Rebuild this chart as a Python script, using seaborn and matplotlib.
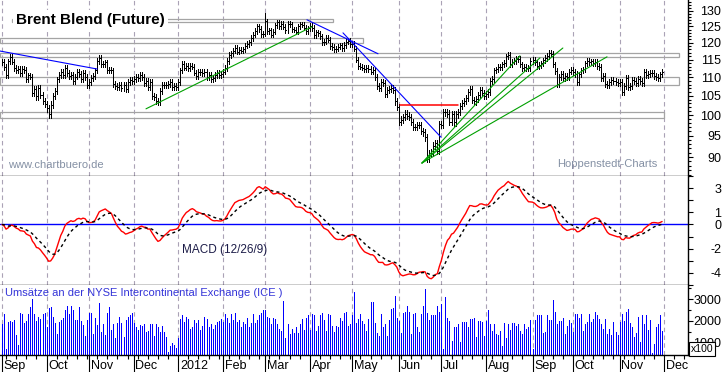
import numpy as np
import pandas as pd
import matplotlib
matplotlib.use("Agg")
import matplotlib.pyplot as plt
import matplotlib.transforms as mtransforms
from matplotlib.patches import Rectangle
from matplotlib.ticker import FixedLocator, NullFormatter
import seaborn as sns

sns.set_theme(style="white")
plt.rcParams['font.family'] = ['Liberation Sans', 'DejaVu Sans']
plt.rcParams['axes.unicode_minus'] = False

# Brent daily closes, month by month (USD)
sep11 = [114.3, 112.8, 110.6, 114.5, 115.8, 114.4, 112.6, 112.0, 112.4, 111.2, 112.3,
         112.0, 109.5, 110.5, 110.2, 105.6, 106.8, 104.8, 107.0, 105.2, 103.6, 102.9]
oct11 = [101.7, 100.2, 102.7, 104.9, 106.2, 109.4, 110.6, 111.4, 110.6, 112.6, 111.2,
         110.4, 110.7, 108.9, 110.2, 111.6, 110.9, 109.6, 111.3, 110.0, 107.8]
nov11 = [108.6, 109.9, 110.4, 111.9, 114.6, 115.6, 113.7, 113.8, 114.2, 111.9, 112.0,
         111.9, 108.2, 107.6, 107.2, 107.9, 107.0, 108.0, 106.8, 108.8, 109.2, 108.9]
dec11 = [109.6, 110.2, 109.8, 110.6, 110.1, 108.4, 109.0, 107.3, 108.8, 105.0, 104.6,
         103.6, 103.4, 106.2, 107.8, 107.9, 107.9, 108.2, 108.8, 107.2, 107.5, 107.4]
jan12 = [108.6, 111.9, 113.7, 112.7, 113.1, 112.5, 113.3, 113.0, 111.3, 110.4, 111.5,
         111.4, 111.2, 111.6, 110.1, 110.6, 109.6, 109.9, 110.6, 111.2, 110.7, 110.9]
feb12 = [111.6, 112.6, 114.6, 116.3, 116.8, 117.6, 118.4, 117.3, 117.8, 117.6, 118.0,
         119.1, 119.6, 120.1, 121.4, 122.4, 123.6, 125.0, 124.2, 122.5, 122.7]
mar12 = [126.6, 123.6, 123.8, 122.4, 123.4, 125.4, 126.4, 125.0, 125.9, 124.9, 123.9,
         125.8, 125.7, 124.1, 124.0, 123.3, 125.1, 125.7, 125.5, 124.6, 123.6, 124.4]
apr12 = [125.2, 124.5, 122.3, 123.2, 122.9, 122.0, 120.1, 120.3, 121.4, 120.9, 119.0,
         118.7, 118.0, 118.2, 118.8, 119.2, 118.4, 119.3, 120.3, 120.5, 119.6]
may12 = [119.7, 118.2, 115.0, 113.2, 113.0, 112.7, 112.2, 112.7, 112.3, 111.6, 112.0,
         110.1, 107.5, 107.1, 108.6, 108.4, 105.4, 106.6, 106.8, 107.0, 106.5, 103.5, 102.0]
jun12 = [98.4, 98.9, 99.6, 100.4, 99.9, 99.5, 98.3, 97.1, 97.1, 97.6, 97.6,
         96.1, 95.8, 94.6, 89.6, 90.9, 91.0, 92.6, 93.2, 91.4, 97.8]
jul12 = [97.6, 100.7, 100.7, 100.4, 98.4, 100.3, 98.2, 100.2, 100.8, 102.4, 103.0,
         103.6, 104.3, 106.1, 106.8, 103.8, 103.5, 104.2, 105.3, 106.5, 105.6, 104.9]
aug12 = [105.4, 106.1, 108.9, 109.6, 111.9, 112.2, 113.0, 112.9, 113.6, 114.0, 115.9,
         116.4, 113.7, 114.4, 114.6, 115.2, 115.1, 113.6, 112.6, 112.9, 112.6, 112.5, 114.6]
sep12 = [114.9, 114.2, 113.2, 113.5, 113.9, 114.8, 115.4, 116.0, 116.9, 116.7,
         113.6, 111.7, 108.2, 110.0, 111.0, 109.8, 110.4, 110.0, 111.6, 112.0]
oct12 = [111.4, 111.0, 108.6, 110.8, 111.9, 112.2, 113.9, 114.6, 114.3, 114.5, 113.9,
         114.3, 113.1, 112.8, 109.8, 110.3, 108.2, 107.8, 108.6, 109.2, 109.0, 108.6, 108.4]
nov12 = [108.8, 106.0, 107.5, 109.9, 107.4, 107.6, 109.2, 108.9, 108.5, 109.6, 109.0,
         108.4, 111.4, 110.6, 110.9, 111.1, 111.3, 110.4, 110.1, 109.8, 110.8, 111.4]

# intraday extremes that stick out of the usual bar
spike_highs = {'2012-03-01': 129.3}

# ICE volume (x100 contracts)
vol_sep11 = [1850, 2300, 700, 1950, 2000, 1950, 2050, 1350, 900, 2350, 2300,
             1900, 2000, 2300, 2650, 3000, 2300, 2000, 2200, 2100, 2300, 2350]
vol_oct11 = [1700, 2600, 2650, 2200, 1900, 1400, 1950, 2050, 2150, 2500, 2700,
             2300, 2700, 2500, 2050, 2050, 2650, 2000, 1800, 1300, 2050]
vol_nov11 = [2350, 2350, 1400, 2150, 1800, 2800, 1500, 1850, 1350, 2350, 2650,
             1600, 1850, 1200, 1900, 2200, 1900, 1250, 2050, 2200, 2250, 2350]
vol_dec11 = [1900, 1700, 1600, 1800, 1750, 1850, 1500, 1550, 1850, 1850, 1300,
             1850, 1700, 1500, 1750, 1500, 1250, 600, 850, 1000, 900, 750]
vol_jan12 = [1200, 2100, 2250, 1950, 2200, 2100, 1650, 1700, 2050, 1900, 2050,
             1600, 1750, 2200, 2100, 1700, 1850, 1650, 1800, 1950, 2000, 2100]
vol_feb12 = [1950, 2300, 2150, 1900, 2300, 2050, 2350, 1950, 2050, 1700, 1950,
             1850, 2150, 1700, 1900, 2300, 1900, 2050, 2250, 2350, 2500]
vol_mar12 = [2500, 2200, 2150, 1850, 2150, 2100, 1850, 1650, 1550, 2900, 1200,
             1850, 1400, 1650, 1450, 1700, 1450, 1850, 2100, 1600, 2150, 2250]
vol_apr12 = [1600, 2300, 2250, 1550, 1750, 2250, 2350, 2050, 1550, 2300, 2250,
             1750, 1500, 1750, 1700, 2150, 2000, 2350, 2400, 1750, 1850]
vol_may12 = [2250, 3300, 1900, 2100, 2300, 2000, 1850, 1550, 2100, 2850, 2850, 1900,
             1450, 1300, 2300, 1700, 1850, 1300, 2050, 2550, 2600, 3150, 2150]
vol_jun12 = [2000, 1450, 2350, 2400, 2700, 2400, 1400, 2300, 2350, 1700, 1500,
             2300, 2700, 3450, 2350, 2050, 2250, 2250, 2250, 2700, 2400]
vol_jul12 = [2750, 700, 3100, 2150, 2000, 1100, 1700, 1700, 1850, 1050, 1950,
             1950, 1950, 1700, 2100, 2100, 2150, 1250, 2000, 2000, 1950, 1300]
vol_aug12 = [2000, 2500, 1850, 1550, 1850, 1400, 1350, 1550, 850, 1900, 1200, 1850,
             1600, 1900, 1900, 1750, 1850, 1550, 1400, 1850, 1650, 1700, 2050]
vol_sep12 = [700, 2050, 2250, 2250, 2250, 1450, 1500, 2250, 2050, 2050,
             2950, 2400, 1850, 2000, 2000, 2150, 1400, 1750, 2050, 1900]
vol_oct12 = [1500, 2300, 2300, 2150, 2300, 1550, 1850, 1950, 2300, 1950, 2100, 2400,
             2250, 2100, 1850, 1650, 2100, 1400, 1650, 1350, 1950, 1500, 1350]
vol_nov12 = [1950, 2300, 2000, 2400, 2550, 1900, 1700, 1250, 1450, 2200, 1050,
             2250, 1850, 2250, 1600, 2050, 550, 950, 1700, 1850, 2250, 1550]

month_labels = ['Sep', 'Oct', 'Nov', 'Dec', '2012', 'Feb', 'Mar', 'Apr', 'May',
                'Jun', 'Jul', 'Aug', 'Sep', 'Oct', 'Nov', 'Dec']

# drawn-in chart annotations: (day number, price) pairs
blue_lines = [((-1, 117.5), (47, 112.3)),
              ((150.6, 127.1), (185.7, 116.7)),
              ((168.4, 123.0), (216.8, 94.6))]
green_lines = [((71.1, 101.6), (153.1, 124.9)),
               ((207.4, 88.65), (255.8, 116.1)),
               ((207.4, 88.65), (265.7, 115.5)),
               ((207.4, 88.65), (277.0, 118.4)),
               ((207.4, 88.65), (298.8, 115.8))]
red_line = ((196.5, 225.2), 102.6)
# support / resistance zones: start day, end day, low, high
zones = [(5, 163.5, 126.5, 127.4),
         (-1, 178.3, 119.9, 121.3),
         (-1, 334.3, 115.8, 116.9),
         (-1, 334.3, 107.9, 110.1),
         (-1, 327.0, 99.3, 100.8)]

closes = np.array(sep11 + oct11 + nov11 + dec11 + jan12 + feb12 + mar12 + apr12 +
                  may12 + jun12 + jul12 + aug12 + sep12 + oct12 + nov12)
volume = np.array(vol_sep11 + vol_oct11 + vol_nov11 + vol_dec11 + vol_jan12 +
                  vol_feb12 + vol_mar12 + vol_apr12 + vol_may12 + vol_jun12 +
                  vol_jul12 + vol_aug12 + vol_sep12 + vol_oct12 + vol_nov12)
n = min(len(closes), len(volume))
closes = closes[:n]
volume = volume[:n]
dates = pd.bdate_range('2011-09-01', periods=n)
x = np.arange(n)

opens = np.r_[closes[0], closes[:-1]]
highs = np.maximum(opens, closes) + 0.8
lows = np.minimum(opens, closes) - 0.8
for d, h in spike_highs.items():
    i = dates.get_loc(pd.Timestamp(d))
    highs[i] = max(highs[i], h)

s = pd.Series(closes)
macd = s.ewm(span=12, adjust=False).mean() - s.ewm(span=26, adjust=False).mean()
signal = macd.ewm(span=9, adjust=False).mean()

# month starts, including the one after the data
cal = pd.bdate_range('2011-09-01', '2012-12-31')
month_idx = [i for i in range(len(cal)) if i == 0 or cal[i].month != cal[i - 1].month]
monday_idx = [i for i in range(len(cal)) if cal[i].weekday() == 0 and i not in month_idx]
xmax = 338.8
month_idx = [m for m in month_idx if m < xmax]
monday_idx = [m for m in monday_idx if m < xmax]

W, H = 723, 372
fig = plt.figure(figsize=(W / 100, H / 100), dpi=100)
ax1 = fig.add_axes([0, 1 - 176 / H, 688 / W, 176 / H])
ax2 = fig.add_axes([0, 1 - 285 / H, 688 / W, 109 / H])
ax3 = fig.add_axes([0, 1 - 355 / H, 688 / W, 70 / H])

grid_kw = dict(color='#aaa2b6', lw=0.8, ls=(0, (4, 3)), zorder=0.5)
for ax in (ax1, ax2, ax3):
    ax.set_xlim(-1, xmax)
    ax.set_facecolor('white')
    for m in month_idx:
        ax.axvline(m, **grid_kw)
    for side in ('left', 'top'):
        ax.spines[side].set_visible(False)
    for side in ('right', 'bottom'):
        ax.spines[side].set_color('black')
        ax.spines[side].set_linewidth(1)
    ax.yaxis.tick_right()
    ax.tick_params(axis='y', which='both', right=True, left=False, labelright=True,
                   labelleft=False, direction='out', color='black', width=0.8,
                   labelsize=9, labelcolor='black', pad=20.2)
    ax.tick_params(axis='y', which='major', length=3.6)
    ax.tick_params(axis='y', which='minor', length=2.2)
    ax.tick_params(axis='x', which='both', bottom=False, labelbottom=False)

# price panel
ax1.set_yscale('log')
ax1.set_ylim(85.8, 133.6)
pticks = [90, 95, 100, 105, 110, 115, 120, 125, 130]
ax1.yaxis.set_major_locator(FixedLocator(pticks))
ax1.set_yticklabels([str(t) for t in pticks])
ax1.yaxis.set_minor_locator(FixedLocator(list(range(86, 134))))
ax1.yaxis.set_minor_formatter(NullFormatter())

for x0, x1, lo, hi in zones:
    ax1.add_patch(Rectangle((x0, lo), x1 - x0, hi - lo, fill=False,
                            ec='#a4a4a4', lw=0.9, zorder=1))

ax1.vlines(x, lows, highs, color='black', lw=0.6, zorder=2, antialiased=False)
ax1.hlines(closes, x, x + 0.5, color='black', lw=0.6, zorder=2, antialiased=False)

for (a, b) in blue_lines:
    ax1.plot([a[0], b[0]], [a[1], b[1]], color='#0000ff', lw=0.8, zorder=3)
for (a, b) in green_lines:
    ax1.plot([a[0], b[0]], [a[1], b[1]], color='#00a000', lw=0.8, zorder=3)
ax1.plot(list(red_line[0]), [red_line[1]] * 2, color='#ff0000', lw=1.1, zorder=3)

fig.text(16 / W, 1 - 20 / H, 'Brent Blend (Future)', fontsize=11, fontweight='bold',
         color='black', va='center', ha='left', zorder=10,
         bbox=dict(fc='white', ec='none', pad=2))
fig.text(8 / W, 1 - 165 / H, 'www.chartbuero.de', fontsize=8, color='#8490a4',
         va='center', ha='left')
fig.text(557 / W, 1 - 164 / H, 'Hoppenstedt-Charts', fontsize=8, color='#8490a4',
         va='center', ha='left')

# MACD panel
ax2.set_ylim(-5, 4)
ax2.axhline(0, color='#0000ff', lw=1, zorder=2)
sns.lineplot(x=x, y=macd.values, ax=ax2, color='red', lw=1, zorder=3)
sns.lineplot(x=x, y=signal.values, ax=ax2, color='black', lw=1,
             linestyle=(0, (2.2, 2.2)), zorder=3)
mticks = list(range(-5, 5))
ax2.yaxis.set_major_locator(FixedLocator(mticks))
ax2.set_yticklabels([str(t) if t in (3, 1, 0, -2, -4) else '' for t in mticks])
ax2.set_ylabel('')
fig.text(182 / W, 1 - 250 / H, 'MACD (12/26/9)', fontsize=8.5, color='#1c1c48',
         va='center', ha='left')

# volume panel
ax3.vlines(x, 0, volume, color='#0000ff', lw=0.6, zorder=2, antialiased=False)
ax3.set_ylim(440, 3640)
ax3.yaxis.set_major_locator(FixedLocator([1000, 2000, 3000]))
ax3.set_yticklabels(['1000', '2000', '3000'])
ax3.yaxis.set_minor_locator(FixedLocator([500, 1500, 2500, 3500]))
ax3.yaxis.set_minor_formatter(NullFormatter())
fig.text(5 / W, 1 - 293 / H, 'Umsätze an der NYSE Intercontinental Exchange (ICE )',
         fontsize=8, color='#3434d8', va='center', ha='left')
fig.text(691 / W, 1 - 349 / H, 'x100', fontsize=7.5, color='black', va='center',
         ha='left', zorder=10, bbox=dict(fc='white', ec='black', lw=0.8, pad=1.2))

ax3.xaxis.set_major_locator(FixedLocator(month_idx))
ax3.xaxis.set_minor_locator(FixedLocator(monday_idx))
ax3.tick_params(axis='x', which='both', bottom=True, labelbottom=False,
                direction='out', color='black', width=0.8)
ax3.tick_params(axis='x', which='major', length=12.5)
ax3.tick_params(axis='x', which='minor', length=2.6)
blend = mtransforms.blended_transform_factory(ax3.transData, ax3.transAxes)
for m, lab in zip(month_idx, month_labels):
    ax3.text(m + 0.9, -0.07, lab, transform=blend, fontsize=9, color='black',
             ha='left', va='top', clip_on=False)

for ax in (ax1, ax2, ax3):
    plt.setp(ax.get_yticklabels(), ha='right')

fig.savefig('out.png', dpi=100)
